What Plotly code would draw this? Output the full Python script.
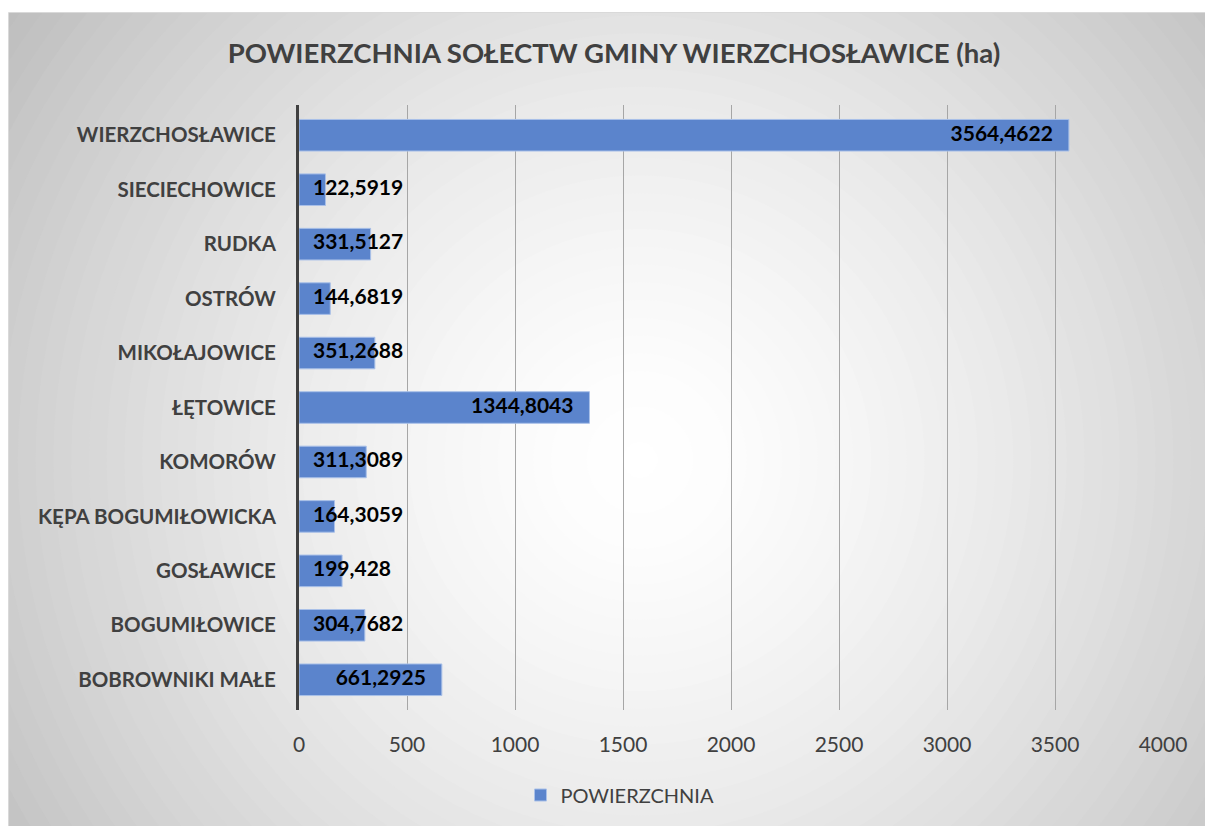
import plotly.graph_objects as go

categories = ["BOBROWNIKI MAŁE", "BOGUMIŁOWICE", "GOSŁAWICE", "KĘPA BOGUMIŁOWICKA",
              "KOMORÓW", "ŁĘTOWICE", "MIKOŁAJOWICE", "OSTRÓW", "RUDKA",
              "SIECIECHOWICE", "WIERZCHOSŁAWICE"]
values = [661.2925, 304.7682, 199.428, 164.3059, 311.3089, 1344.8043,
          351.2688, 144.6819, 331.5127, 122.5919, 3564.4622]
labels = ["661,2925", "304,7682", "199,428", "164,3059", "311,3089", "1344,8043",
          "351,2688", "144,6819", "331,5127", "122,5919", "3564,4622"]
series_name = "POWIERZCHNIA"
x_ticks = [0, 500, 1000, 1500, 2000, 2500, 3000, 3500, 4000]

W, H = 1205, 826
L, R, T, B = 299, 1205 - 1163, 105, 826 - 710
PW, PH = W - L - R, H - T - B
XMAX = 4000
upx = XMAX / PW  # data units per pixel

# label placement (Excel "inside end", overflowing short bars start near axis)
lab_x, lab_pos = [], []
for v in values:
    if v >= 600:
        lab_x.append(v - 16 * upx)
        lab_pos.append("middle left")
    else:
        lab_x.append(14 * upx)
        lab_pos.append("middle right")

fig = go.Figure()
fig.add_trace(go.Bar(
    y=categories, x=values, orientation="h", name=series_name,
    marker=dict(color="#5b84cc", line=dict(color="#a9c0e8", width=1)),
    hoverinfo="x+y",
))
fig.add_trace(go.Scatter(
    y=categories, x=lab_x, mode="text", text=labels, textposition=lab_pos,
    textfont=dict(family="Lato", size=21, color="#000000", weight="bold"),
    showlegend=False, hoverinfo="skip", cliponaxis=False,
))

# radial gradient background (circles in figure pixel space)
def px2paper(px, py):
    return (px - L) / PW, (H - B - py) / PH

shapes = []
x0, y0 = px2paper(9, 13)
x1, y1 = px2paper(W + 5, H + 5)
shapes.append(dict(type="rect", xref="paper", yref="paper", x0=x0, y0=y1, x1=x1, y1=y0,
                   fillcolor="rgb(190,190,190)", line=dict(width=0), layer="below"))
cx, cy = 640, 460
N = 45
RMAX = 800.0
for i in range(N):
    r = RMAX * (1 - i / N)
    c = int(round(255 - 64 * (r / 773.0) ** 1.5))
    c = max(185, min(255, c))
    ax0, ay0 = px2paper(cx - r, cy + r)
    ax1, ay1 = px2paper(cx + r, cy - r)
    shapes.append(dict(type="circle", xref="paper", yref="paper",
                       x0=ax0, y0=ay0, x1=ax1, y1=ay1,
                       fillcolor=f"rgb({c},{c},{c})", line=dict(width=0), layer="below"))
# white outside strips (top and left)
tx0, ty0 = px2paper(-40, -200)
tx1, ty1 = px2paper(W + 200, 13)
shapes.append(dict(type="rect", xref="paper", yref="paper", x0=tx0, y0=ty1, x1=tx1, y1=ty0,
                   fillcolor="white", line=dict(width=0), layer="below"))
lx0, ly0 = px2paper(-40, -20)
lx1, ly1 = px2paper(8.5, H + 200)
shapes.append(dict(type="rect", xref="paper", yref="paper", x0=lx0, y0=ly1, x1=lx1, y1=ly0,
                   fillcolor="white", line=dict(width=0), layer="below"))
bx0, by0 = px2paper(8.5, 12.5)
bx1, by1 = px2paper(W + 50, H + 50)
shapes.append(dict(type="rect", xref="paper", yref="paper", x0=bx0, y0=by1, x1=bx1, y1=by0,
                   fillcolor="rgba(0,0,0,0)", line=dict(color="#d9d9d9", width=1), layer="below"))

fig.update_layout(
    width=W, height=H,
    margin=dict(l=L, r=R, t=T, b=B),
    paper_bgcolor="white", plot_bgcolor="rgba(0,0,0,0)",
    shapes=shapes,
    bargap=0.42,
    title=dict(text="POWIERZCHNIA SOŁECTW GMINY WIERZCHOSŁAWICE (ha)",
               x=614 / W, xanchor="center", y=1 - 53 / H, yanchor="middle",
               font=dict(family="Lato", size=27.5, color="#404040", weight="bold")),
    xaxis=dict(range=[0, XMAX], tickvals=x_ticks, showgrid=True, gridcolor="#a6a6a6",
               gridwidth=1, zeroline=False, showline=False, ticks="",
               ticklabelstandoff=20,
               tickfont=dict(family="Lato", size=21, color="#404040"), fixedrange=True),
    yaxis=dict(categoryorder="array", categoryarray=categories, showgrid=False,
               zeroline=False, showline=True, linecolor="#404040", linewidth=3,
               ticks="", ticklabelstandoff=16,
               tickfont=dict(family="Lato", size=20.5, color="#404040", weight="bold"),
               fixedrange=True),
    legend=dict(orientation="h", x=(620 - L) / PW, xanchor="center",
                y=(H - B - 795) / PH, yanchor="middle",
                font=dict(family="Lato", size=20, color="#404040"),
                bgcolor="rgba(0,0,0,0)"),
    showlegend=True,
)

fig.write_html("out.html",
               config={"displayModeBar": False},
               post_script="document.body.style.margin='0';"
                           "document.documentElement.style.overflow='hidden';")
